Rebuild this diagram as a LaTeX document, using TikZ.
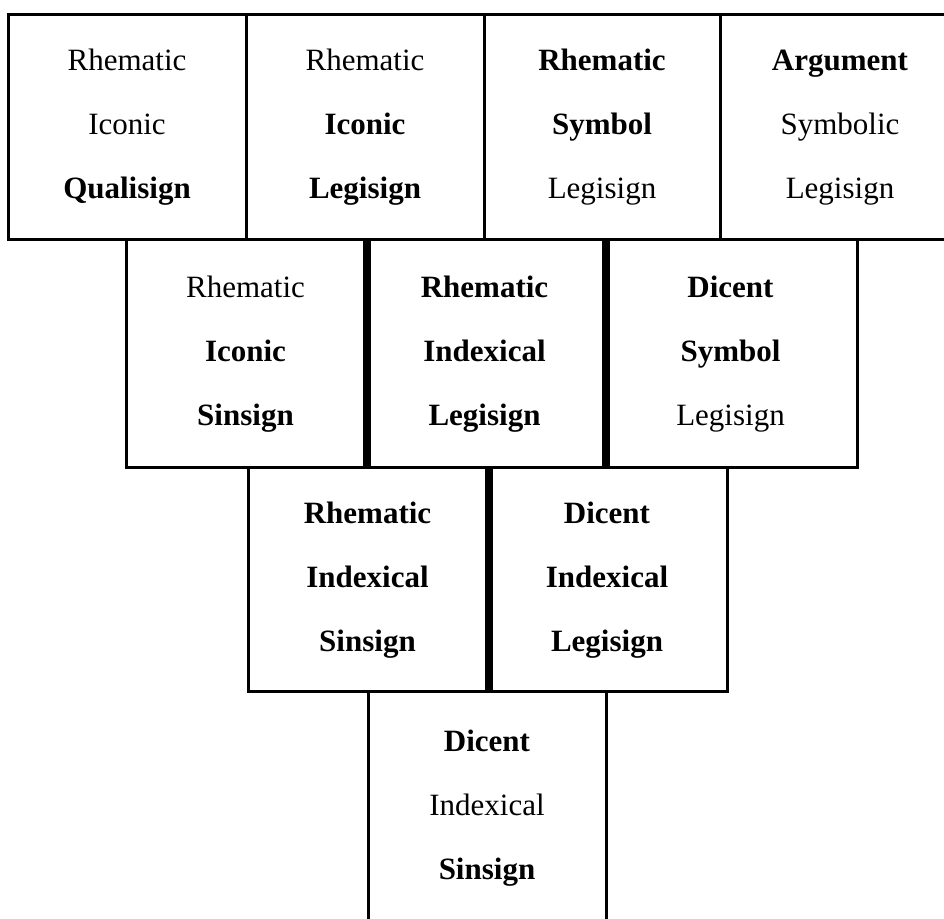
\documentclass[tikz,border=0pt]{standalone}
\usepackage{fontspec}
\setmainfont{Liberation Serif}
\begin{document}
\begin{tikzpicture}[x=1pt,y=1pt,
  cell/.style={draw, line width=3pt, inner sep=0pt, align=center,
    font=\fontsize{31}{64}\selectfont},
  thickdiv/.style={line width=8pt}]
\useasboundingbox (0,0) rectangle (944,918);
% row 1
\node[cell, minimum width=238, minimum height=225] (a1) at (127,790.5)
  {Rhematic\\Iconic\\\textbf{Qualisign}};
\node[cell, minimum width=238, minimum height=225] (a2) at (365,790.5)
  {Rhematic\\\textbf{Iconic}\\\textbf{Legisign}};
\node[cell, minimum width=236, minimum height=225] (a3) at (602,790.5)
  {\textbf{Rhematic}\\\textbf{Symbol}\\Legisign};
\node[cell, minimum width=240, minimum height=225] (a4) at (840,790.5)
  {\textbf{Argument}\\Symbolic\\Legisign};
% row 2
\node[cell, minimum width=239, minimum height=228] (b1) at (245.5,564)
  {Rhematic\\\textbf{Iconic}\\\textbf{Sinsign}};
\node[cell, minimum width=239, minimum height=228] (b2) at (484.5,564)
  {\textbf{Rhematic}\\\textbf{Indexical}\\\textbf{Legisign}};
\node[cell, minimum width=253, minimum height=228] (b3) at (730.5,564)
  {\textbf{Dicent}\\\textbf{Symbol}\\Legisign};
% row 3
\node[cell, minimum width=239, minimum height=224] (c1) at (367.5,338)
  {\textbf{Rhematic}\\\textbf{Indexical}\\\textbf{Sinsign}};
\node[cell, minimum width=240, minimum height=224] (c2) at (607,338)
  {\textbf{Dicent}\\\textbf{Indexical}\\\textbf{Legisign}};
% row 4
\node[cell, minimum width=238, minimum height=232] (d1) at (487,110)
  {\textbf{Dicent}\\Indexical\\\textbf{Sinsign}};
% thick dividers
\draw[thickdiv] (b1.north east) -- (b1.south east);
\draw[thickdiv] (b2.north east) -- (b2.south east);
\draw[thickdiv] (c1.north east) -- (c1.south east);
\end{tikzpicture}
\end{document}
